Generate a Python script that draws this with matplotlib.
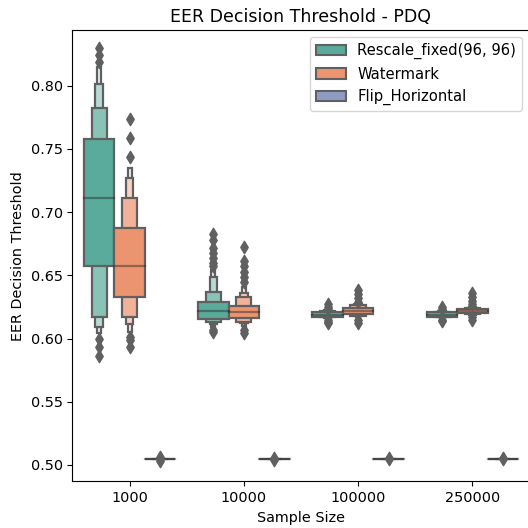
import numpy as np
import matplotlib
matplotlib.use("Agg")
import matplotlib.pyplot as plt
from matplotlib.patches import Rectangle

# categories
sizes = ["1000", "10000", "100000", "250000"]
methods = ["Rescale_fixed(96, 96)", "Watermark", "Flip_Horizontal"]
hue_colors = ["#5aab9b", "#ec9470", "#8e9cc2"]

# letter-value box ends, innermost level first, one list per sample size
rescale_lower = [[0.657, 0.617, 0.6094, 0.604],
                 [0.6155, 0.6134, 0.6113, 0.609],
                 [0.6173, 0.6168, 0.6163, 0.616],
                 [0.6173, 0.6170, 0.6167, 0.6165]]
rescale_upper = [[0.758, 0.782, 0.801, 0.8146],
                 [0.6292, 0.637, 0.649, 0.6543],
                 [0.6213, 0.6218, 0.6223, 0.6226],
                 [0.6208, 0.6212, 0.6216, 0.6219]]
rescale_median = [0.711, 0.6218, 0.619, 0.619]
rescale_outliers = [[0.830, 0.824, 0.819, 0.600, 0.593, 0.586],
                    [0.683, 0.678, 0.672, 0.668, 0.664, 0.660, 0.657, 0.607, 0.605],
                    [0.627, 0.625, 0.623, 0.615, 0.613, 0.612],
                    [0.625, 0.623, 0.615, 0.614]]

watermark_lower = [[0.6332, 0.6173, 0.6116, 0.6055],
                   [0.616, 0.6134, 0.6120, 0.610],
                   [0.6192, 0.618, 0.6175, 0.617],
                   [0.620, 0.6195, 0.6190, 0.6185]]
watermark_upper = [[0.6877, 0.711, 0.7268, 0.7347],
                   [0.6258, 0.6332, 0.6358, 0.641],
                   [0.624, 0.6266, 0.6275, 0.628],
                   [0.6232, 0.6240, 0.6248, 0.6255]]
watermark_median = [0.657, 0.6208, 0.6215, 0.6215]
watermark_outliers = [[0.7737, 0.759, 0.7434, 0.6015, 0.599, 0.5935],
                      [0.6727, 0.661, 0.657, 0.653, 0.649, 0.645, 0.607, 0.604],
                      [0.638, 0.635, 0.632, 0.629, 0.615, 0.612],
                      [0.636, 0.633, 0.630, 0.627, 0.617, 0.6145]]

flip_lower = [[0.5047] * 4] * 4
flip_upper = [[0.5047] * 4] * 4
flip_median = [0.5047] * 4
flip_outliers = [[0.5063, 0.5047, 0.5032],
                 [0.5055, 0.5040],
                 [0.5052, 0.5043],
                 [0.5052, 0.5043]]

lowers = [rescale_lower, watermark_lower, flip_lower]
uppers = [rescale_upper, watermark_upper, flip_upper]
medians = [rescale_median, watermark_median, flip_median]
outliers = [rescale_outliers, watermark_outliers, flip_outliers]

gray = "#606060"
box_w = 0.8 / 3


def blend(c, t):
    # mix colour c toward white by t
    c = np.array(matplotlib.colors.to_rgb(c))
    return tuple(c + (1 - c) * t)


fig = plt.figure(figsize=(5.28, 5.28), dpi=100)
ax = fig.add_axes([0.1373, 0.0881, 0.8655, 0.8551])

for h, m in enumerate(methods):
    col = hue_colors[h]
    for i in range(len(sizes)):
        x = i + (h - 1) * box_w
        lo = lowers[h][i]
        hi = uppers[h][i]
        k = len(lo)
        # outermost level first so inner boxes sit on top
        for j in range(k - 1, -1, -1):
            w = box_w * 2 ** (-j)
            fc = blend(col, 0.85 * j / (k - 1))
            ax.add_patch(Rectangle((x - w / 2, lo[j]), w, hi[j] - lo[j],
                                   facecolor=fc, edgecolor=gray, lw=1.6, zorder=2))
        ax.plot([x - box_w / 2, x + box_w / 2], [medians[h][i]] * 2,
                color=".15", alpha=0.45, lw=1.6, zorder=3)
        out = outliers[h][i]
        ax.scatter([x] * len(out), out, marker="d", c=gray, s=40, zorder=4)
    # legend handle
    ax.add_patch(Rectangle((0, 0), 0, 0, facecolor=col, edgecolor=gray,
                           lw=1.5, label=m))

ax.set_xlim(-0.5, 3.5)
ax.set_ylim(0.4869, 0.8441)
ax.set_xticks(range(len(sizes)))
ax.set_xticklabels(sizes)
ax.tick_params(labelsize=10.4)
ax.set_xlabel("Sample Size", fontsize=10.4)
ax.set_ylabel("EER Decision Threshold", fontsize=10.4)
ax.set_title("EER Decision Threshold - PDQ", fontsize=12.5)
ax.legend(loc="upper right", fontsize=10.6)

plt.savefig("out.png", dpi=100)
